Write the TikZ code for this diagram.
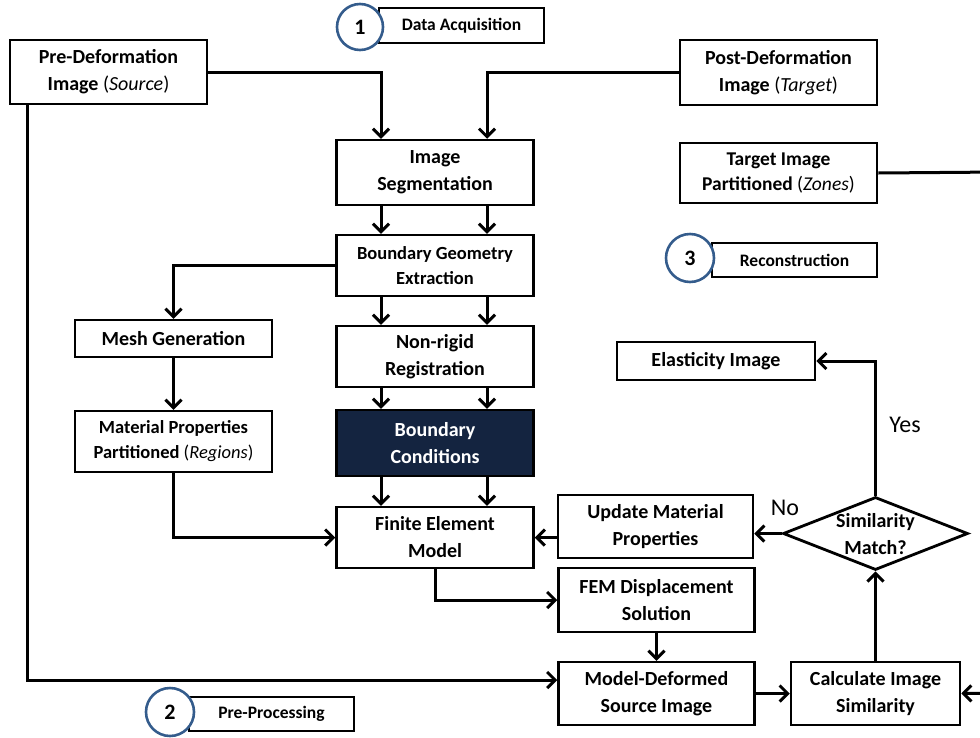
\documentclass[tikz,border=0pt]{standalone}
\usepackage{fontspec}
\setmainfont{Carlito}
\usetikzlibrary{arrows.meta,shapes.geometric}
\definecolor{navy}{RGB}{20,36,64}
\definecolor{circblue}{RGB}{52,92,140}
\begin{document}
\begin{tikzpicture}[x=1pt,y=-1pt,
  box/.style={draw, line width=2.5pt, align=center, fill=white,
    font=\fontsize{20}{27}\selectfont\bfseries, inner sep=0pt},
  smallbox/.style={box, font=\fontsize{17.5}{20}\selectfont\bfseries},
  sz/.style 2 args={minimum width=#1pt, minimum height=#2pt},
  circ/.style={circle, draw=circblue, line width=2.6pt, fill=white, inner sep=0pt,
    minimum size=#1pt, font=\fontsize{22}{22}\selectfont\bfseries},
  arr/.style={line width=3pt, -{Straight Barb[length=8pt,width=16pt]}},
  lbl/.style={font=\fontsize{24}{24}\selectfont, inner sep=0pt}]
\useasboundingbox (0,0) rectangle (980,737);
\clip (0,0) rectangle (980,737);

% nodes
\node[box, sz={197}{64}] (pre) at (108.5,72) {Pre-Deformation\\Image \textmd{(\textit{Source})}};
\node[smallbox, sz={165}{35}] (da) at (461.5,25.5) {Data Acquisition};
\node[circ=46] (c1) at (360,27) {1};
\node[box, sz={197}{65}] (post) at (778.5,72.5) {Post-Deformation\\Image \textmd{(\textit{Target})}};
\node[box, sz={197}{65}] (seg) at (435,172.5) {Image\\Segmentation};
\node[box, sz={197}{60}, font=\fontsize{19.5}{25}\selectfont\bfseries] (tzone) at (778.5,173) {Target Image\\Partitioned \textmd{(\textit{Zones})}};
\node[smallbox, sz={165}{34}] (rec) at (794.5,260) {Reconstruction};
\node[circ=48] (c3) at (690,258) {3};
\node[box, sz={197}{61}, font=\fontsize{18.5}{25}\selectfont\bfseries] (bge) at (435,265.5) {Boundary Geometry\\Extraction};
\node[box, sz={197}{37}] (mesh) at (173.5,338.5) {Mesh Generation};
\node[box, sz={197}{61}] (nrr) at (435,356.5) {Non-rigid\\Registration};
\node[box, sz={198}{38}] (elas) at (716,361) {Elasticity Image};
\node[box, sz={197}{61}, font=\fontsize{18.5}{25}\selectfont\bfseries] (mat) at (173.5,441.5) {Material Properties\\Partitioned \textmd{(\textit{Regions})}};
\node[box, sz={197}{66}, fill=navy, text=white] (bc) at (435,443) {Boundary\\Conditions};
\node[box, sz={197}{61}] (fem) at (435,537.5) {Finite Element\\Model};
\node[box, sz={195}{63}] (upd) at (655.5,526.5) {Update Material\\Properties};
\node[diamond, draw, line width=2.8pt, fill=white, aspect=2.53, inner sep=0pt,
  minimum width=185pt, minimum height=73pt] (dia) at (875.5,533.5) {};
\node[font=\fontsize{20}{27}\selectfont\bfseries, align=center, inner sep=0pt] (diat) at (875.5,534) {Similarity\\Match?};
\node[box, sz={196}{64}] (disp) at (656.5,600) {FEM Displacement\\Solution};
\node[box, sz={196}{63}] (mds) at (656.5,693.5) {Model-Deformed\\Source Image};
\node[box, sz={169}{63}] (calc) at (875.5,693.5) {Calculate Image\\Similarity};
\node[smallbox, sz={165}{34}] (pp) at (271.5,714) {Pre-Processing};
\node[circ=48] (c2) at (170,712) {2};
\node[lbl] (yes) at (905,425) {Yes};
\node[lbl] (no) at (785,508) {No};

% helper coordinates
\coordinate (cl) at (381,0);
\coordinate (cr) at (487,0);
\coordinate (pl) at (27,0);
\coordinate (fl) at (435,0);
\coordinate (offA) at (1000,172);
\coordinate (offB) at (1000,693);

% connectors
\draw[arr] (pre.east) -| (seg.north -| cl);
\draw[arr] (post.west) -| (seg.north -| cr);
\draw[arr] (seg.south -| cl) -- (bge.north -| cl);
\draw[arr] (seg.south -| cr) -- (bge.north -| cr);
\draw[arr] (bge.south -| cl) -- (nrr.north -| cl);
\draw[arr] (bge.south -| cr) -- (nrr.north -| cr);
\draw[arr] (nrr.south -| cl) -- (bc.north -| cl);
\draw[arr] (nrr.south -| cr) -- (bc.north -| cr);
\draw[arr] (bc.south -| cl) -- (fem.north -| cl);
\draw[arr] (bc.south -| cr) -- (fem.north -| cr);
\draw[arr] (bge.west) -| (mesh.north);
\draw[arr] (mesh.south) -- (mat.north);
\draw[arr] (mat.south) |- (fem.west);
\draw[arr] (pre.south -| pl) |- (mds.west |- 0,680);
\draw[arr] (fem.south -| fl) |- (disp.west);
\draw[arr] (disp.south) -- (mds.north);
\draw[arr] (mds.east) -- (calc.west);
\draw[arr] (calc.north) -- (dia.south);
\draw[arr] (dia.north) |- (elas.east);
\draw[arr] (dia.west) -- (upd.east |- dia.west);
\draw[arr] (upd.west |- fem.east) -- (fem.east);
\draw[arr] (tzone.east) -- (offA) -- (offB) -- (calc.east);
\end{tikzpicture}
\end{document}
